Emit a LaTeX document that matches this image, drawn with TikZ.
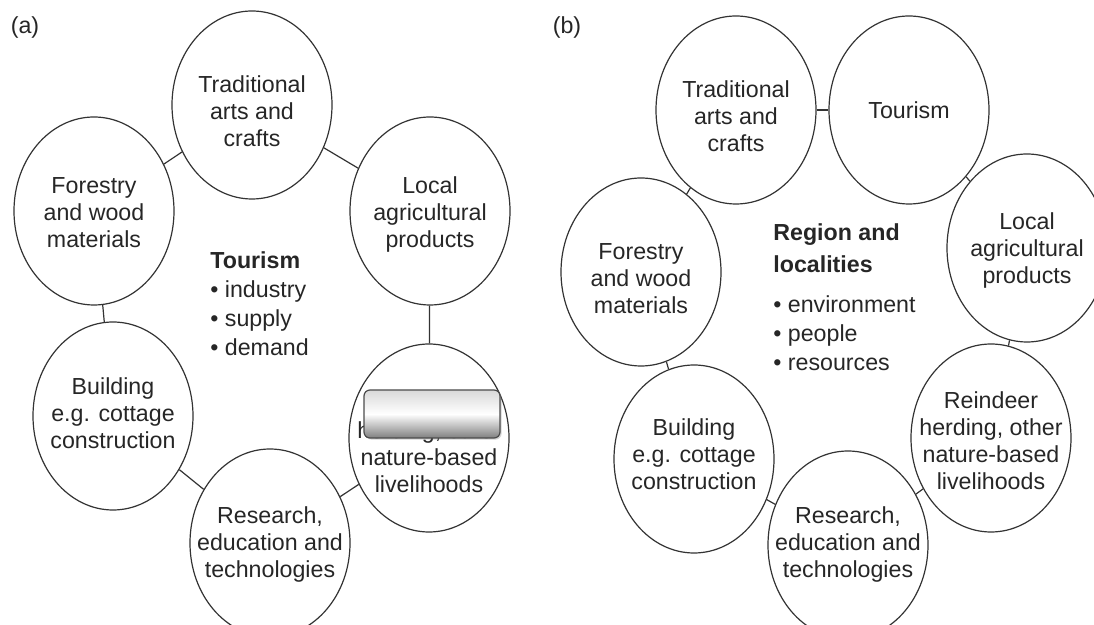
\documentclass[tikz,border=0pt]{standalone}
\usepackage{fontspec}
\setmainfont{Liberation Sans}
\usetikzlibrary{shapes.geometric,shadows}

\begin{document}
\begin{tikzpicture}[x=0.5pt,y=-0.5pt,
  topic/.style={ellipse,draw=black!80,line width=0.6pt,minimum width=80pt,minimum height=94pt,inner sep=0pt},
  topictext/.style={align=center,text=black!85,font=\fontsize{11.6}{13.5}\selectfont},
  core/.style={align=left,anchor=west,inner sep=0pt,text=black!85,font=\fontsize{11.6}{14.5}\selectfont},
  panel/.style={text=black!85,font=\fontsize{11.6}{13.5}\selectfont},
  blank/.style={draw=black!70,line width=0.6pt,rounded corners=3pt,minimum width=68pt,minimum height=24pt,
    top color=black!15,bottom color=black!50,middle color=white,
    drop shadow={shadow xshift=0.8pt,shadow yshift=-0.8pt,opacity=0.35}},
  every edge/.style={draw=black!80,line width=0.6pt}]
  \useasboundingbox (0,0) rectangle (1094,625);

  % (a)
  \node[panel] (pa) at (25,28) {(a)};
  \node[topic,label={[topictext,yshift=-3pt]center:Traditional\\arts and\\crafts}] (trad1) at (252,105) {};
  \node[topic,label={[topictext,yshift=-2pt]center:Local\\agricultural\\products}] (local1) at (430,211) {};
  \node[topic,label={[topictext,yshift=-1pt]center:Forestry\\and wood\\materials}] (forest1) at (94,211) {};
  \node[topic,label={[topictext,yshift=1.5pt]center:Building\\e.g. cottage\\construction}] (build1) at (113,416) {};
  \node[topic,label={[topictext,yshift=-1pt]center:Research,\\education and\\technologies}] (research1) at (270,543) {};
  \node[topic,label={[topictext,yshift=-3pt]center:Reindeer\\herding, other\\nature-based\\livelihoods}] (reindeer1) at (429,438) {};
  \node[blank] (mask1) at (432,414) {};
  \node[core] (core1) at (210,304) {\textbf{Tourism}\\\textbullet\ industry\\\textbullet\ supply\\\textbullet\ demand};

  \path (trad1) edge (forest1)
        (trad1) edge (local1)
        (local1) edge (reindeer1)
        (reindeer1) edge (research1)
        (research1) edge (build1)
        (build1) edge (forest1);

  % (b)
  \node[panel] (pb) at (567,28) {(b)};
  \node[topic,label={[topictext,yshift=-3pt]center:Traditional\\arts and\\crafts}] (trad2) at (736,110) {};
  \node[topic,label={[topictext]center:Tourism}] (tour2) at (909,110) {};
  \node[topic,label={[topictext,yshift=-1.5pt]center:Local\\agricultural\\products}] (local2) at (1027,248) {};
  \node[topic,label={[topictext,yshift=-3.5pt]center:Forestry\\and wood\\materials}] (forest2) at (641,272) {};
  \node[topic,label={[topictext,yshift=2.5pt]center:Building\\e.g. cottage\\construction}] (build2) at (694,459) {};
  \node[topic,label={[topictext]center:Research,\\education and\\technologies}] (research2) at (848,545) {};
  \node[topic,label={[topictext,yshift=-1.5pt]center:Reindeer\\herding, other\\nature-based\\livelihoods}] (reindeer2) at (991,438) {};
  \node[core] (core2) at (773,297) {\textbf{Region and}\\[1.5pt]\textbf{localities}\\[5.5pt]\textbullet\ environment\\\textbullet\ people\\\textbullet\ resources};

  \path (trad2) edge (tour2)
        (tour2) edge (local2)
        (local2) edge (reindeer2)
        (reindeer2) edge (research2)
        (research2) edge (build2)
        (build2) edge (forest2)
        (forest2) edge (trad2);
\end{tikzpicture}
\end{document}
